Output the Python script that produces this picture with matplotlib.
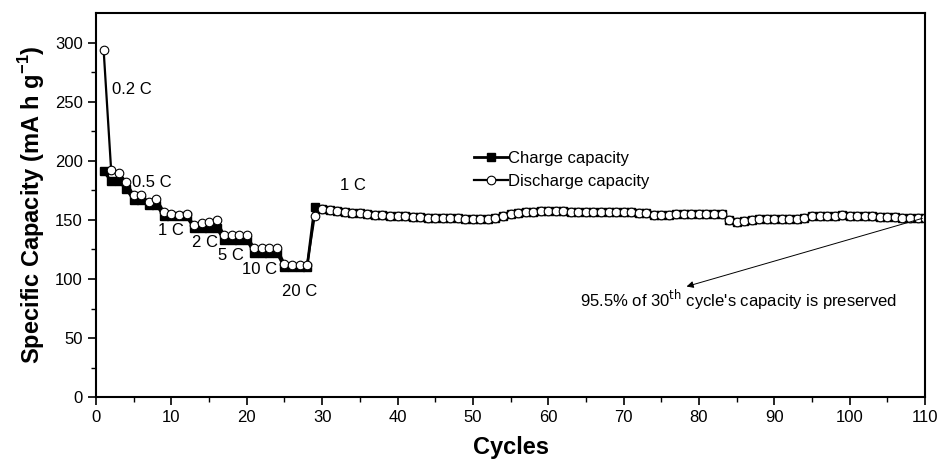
import matplotlib
matplotlib.use("Agg")
import numpy as np
import matplotlib.pyplot as plt

plt.rcParams["font.family"] = ["Liberation Sans", "DejaVu Sans"]

# =============================================================================
# Data
# =============================================================================

cycles = np.arange(1, 111)

discharge_early = [294, 192, 190,            # 0.2 C
                   182, 171, 171, 165, 168,  # 0.5 C
                   157, 155, 154, 155,       # 1 C
                   146, 147, 148, 150,       # 2 C
                   137, 137, 137, 137,       # 5 C
                   126, 126, 126, 126,       # 10 C
                   113, 112, 112, 112,       # 20 C
                   153]                      # back to 1 C

charge_early = [191, 183, 183,
                176, 167, 167, 163, 163,
                153, 153, 153, 153,
                143, 143, 143, 143,
                133, 133, 133, 133,
                122, 122, 122, 122,
                110, 110, 110, 110,
                161]

# cycles 30 - 110
discharge_late = [159, 158, 157.5, 157, 156, 155.5, 155, 154.5, 154, 153.5,
                  153, 153, 152.5, 152.5, 152, 152, 152, 151.5, 151.5, 151,
                  151, 151, 151, 151.5, 153, 155, 156, 157, 157, 157.5,
                  157.5, 157.5, 157.5, 157, 157, 157, 157, 156.5, 156.5, 156.5,
                  156.5, 156.5, 156, 156, 154.5, 154, 154, 155, 155, 155,
                  155, 155, 155, 155, 150, 148, 149, 150, 151,
                  151, 151, 151, 150.5, 151, 152, 153, 153, 153, 153.5,
                  154, 153.5, 153, 153, 153, 152.5, 152.5, 152.5, 152, 152,
                  152, 152]

discharge = np.array(discharge_early + discharge_late)
charge = np.array(charge_early + discharge_late)

rate_labels = ["0.2 C", "0.5 C", "1 C", "2 C", "5 C", "10 C", "20 C", "1 C"]
rate_x = [2.1, 4.8, 8.2, 12.7, 16.2, 19.4, 24.7, 32.4]
rate_y = [260, 182, 141, 131, 120, 108, 89, 179]

# =============================================================================
# Figure
# =============================================================================

fig = plt.figure(figsize=(9.42, 4.70), dpi=100)
ax = fig.add_axes([0.102, 0.155, 0.88, 0.817])

ax.plot(cycles, charge, "-s", color="black", lw=2.0, ms=6,
        mfc="black", mec="black", label="Charge capacity")
ax.plot(cycles, discharge, "-o", color="black", lw=1.6, ms=6.2,
        mfc="white", mec="black", mew=0.8, label="Discharge capacity")

for lab, xx, yy in zip(rate_labels, rate_x, rate_y):
    ax.text(xx, yy, lab, fontsize=12, ha="left", va="center")

ax.annotate("", xy=(78, 93), xytext=(110, 152),
            arrowprops=dict(arrowstyle="-|>", color="black", lw=0.7,
                            mutation_scale=10))
ax.text(64.2, 82, "95.5% of 30$^{\\mathrm{th}}$ cycle's capacity is preserved",
        fontsize=12, ha="left", va="center")

ax.set_xlim(0, 110)
ax.set_ylim(0, 325)
ax.set_xticks(np.arange(0, 111, 10))
ax.set_xticks(np.arange(5, 110, 10), minor=True)
ax.set_yticks(np.arange(0, 301, 50))
ax.set_yticks(np.arange(25, 325, 50), minor=True)

ax.tick_params(which="major", direction="out", length=6, width=1.2,
               labelsize=12)
ax.tick_params(which="minor", direction="out", length=3.5, width=1.0)
for sp in ax.spines.values():
    sp.set_linewidth(1.5)

ax.set_xlabel("Cycles", fontsize=17, fontweight="bold", labelpad=8)
ax.set_ylabel("Specific Capacity (mA h g$^{\\mathregular{-1}}$)", fontsize=17,
              fontweight="bold", labelpad=6)

ax.legend(loc="center left", bbox_to_anchor=(0.438, 0.592), frameon=False,
          fontsize=12, handlelength=2.0, handletextpad=0.05,
          labelspacing=0.45)

fig.savefig("out.png", dpi=100)
